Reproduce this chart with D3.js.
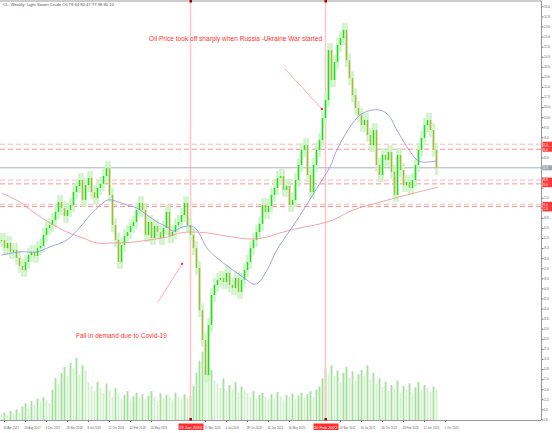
<!DOCTYPE html>
<html>
<head>
  <style>
    body {
      margin: 0;
      background: white;
    }
    svg {
      display: block;
      font-family: "Liberation Sans", Arial, sans-serif;
    }
  </style>
</head>
<body>
  <script src="https://d3js.org/d3.v7.min.js"></script>
  <script>
    var width = 552, height = 433;
    var plotRight = 541, plotBottom = 420;

    // weekly closes, one entry per drawn candle
    var closes = [
      61.8, 59.2, 60.8, 58.0, 58.6, 56.1, 53.5, 52.2, 54.8, 57.0,
      58.0, 56.7, 59.2, 59.9, 63.4, 65.6, 66.5, 68.1, 70.7, 73.8,
      71.9, 69.4, 71.3, 72.9, 77.0, 78.9, 80.8, 74.5, 79.2, 81.5,
      77.0, 75.1, 78.3, 79.6, 82.1, 84.6, 76.1, 66.5, 61.8, 54.8,
      60.2, 63.0, 64.3, 66.2, 67.5, 71.3, 73.5, 71.3, 63.4, 67.5,
      62.4, 66.2, 64.3, 62.4, 65.6, 70.7, 63.0, 64.3, 66.5, 67.5,
      69.7, 73.5, 66.5, 63.4, 59.2, 52.9, 39.5, 30.0, 18.9, 34.8,
      44.3, 47.5, 49.1, 49.7, 48.4, 51.3, 47.5, 46.5, 49.7, 45.3,
      49.1, 52.2, 54.8, 59.2, 61.8, 64.3, 66.9, 72.9, 70.7, 72.6,
      76.1, 78.3, 81.5, 82.1, 77.7, 78.9, 72.9, 74.5, 80.8, 85.6,
      90.4, 91.9, 82.4, 77.0, 85.6, 90.4, 93.5, 100.5, 106.2, 122.1,
      112.6, 118.3, 123.7, 125.9, 128.5, 118.9, 113.2, 107.8, 103.7, 101.5,
      98.3, 99.9, 95.1, 91.9, 96.7, 85.6, 82.4, 88.8, 87.2, 89.7,
      83.4, 76.1, 88.8, 84.0, 79.2, 80.2, 78.3, 80.8, 85.6, 90.4,
      94.2, 98.3, 99.9, 96.7, 90.4, 84.6
    ];

    var volumes = [
      8, 10, 6, 12, 9, 14, 10,
      18, 22, 15, 25, 20, 28, 24, 30, 26, 22,
      40, 55, 48, 62, 70, 58, 75, 68, 82, 60, 72, 65, 50,
      45, 38, 50, 42, 36, 48, 40,
      30, 42, 35, 28, 33, 38, 26, 31, 36, 29, 34, 27, 32, 38, 30, 25, 35, 28, 33, 30, 26, 36, 31, 28, 34, 29, 32,
      45, 62, 78, 90, 70, 58, 66, 52,
      48, 42, 55, 38, 46, 40, 50, 36, 44, 39,
      35, 30, 38, 28, 33, 36, 30, 27, 34, 29, 37, 31, 26, 33, 30, 35, 28, 32, 36, 29, 34, 38, 31, 40, 44,
      55, 68, 60, 72, 58, 65, 50, 62, 70, 56, 64, 52, 60,
      66, 58, 72, 54, 62, 48, 55,
      44, 50, 38, 46, 41, 52, 36, 45, 40, 48, 35, 43, 50, 39, 46, 42, 37, 44, 40
    ];

    // moving averages: [bar, price]
    var maFast = [
      [0, 57.0], [6.2, 58.0], [11.8, 58.0], [16.2, 59.6], [21.8, 61.8], [26.2, 65.9],
      [30.5, 70.7], [33.8, 73.5], [35.5, 74.5], [37.8, 74.2], [41.8, 72.9], [45.2, 71.9],
      [48.5, 69.7], [51.8, 67.5], [55.2, 65.9], [57.2, 64.6], [60.2, 65.9], [62.8, 66.2],
      [64.5, 65.6], [66.2, 63.4], [68.5, 59.2], [71.8, 56.1], [76.2, 52.9], [81.8, 49.1],
      [83.8, 47.8], [85.5, 48.1], [88.5, 52.2], [91.8, 58.6], [98.5, 68.1], [106.2, 79.9],
      [109.5, 85.0], [111.8, 90.4], [116.2, 97.7], [119.5, 101.5], [123.8, 103.1],
      [127.2, 102.7], [129.5, 100.8], [131.8, 96.7], [135.2, 91.3], [138.5, 87.2],
      [140.5, 86.5], [145, 86.9]
    ];
    var maSlow = [
      [0, 76.7], [6.2, 73.8], [10.5, 70.7], [16.2, 67.2], [21.8, 64.3], [27.2, 62.4],
      [31.8, 60.8], [36.2, 60.8], [43.8, 61.1], [49.5, 61.8], [55.2, 62.7], [59.5, 64.0],
      [63.8, 64.3], [68.5, 64.0], [77.2, 62.7], [82.8, 62.1], [88.5, 62.7], [92.8, 64.0],
      [99.5, 65.6], [106.2, 66.9], [110.5, 68.1], [117.2, 71.3], [126.2, 73.8],
      [135.2, 76.1], [145.5, 78.6]
    ];

    var levels = [92.2, 90.6, 80.8, 79.6, 73.1, 72.4];
    var lastPrice = 84.7;

    var priceTicks = [
      136.0, 132.8, 129.6, 126.4, 123.2, 120.0, 116.8, 113.6, 110.4, 107.2,
      104.0, 100.8, 97.6, 94.4, 91.2, 88.0, 84.8, 81.6, 78.4, 75.2,
      72.0, 68.8, 65.6, 62.4, 59.2, 56.0, 52.8, 49.6, 46.4, 43.2,
      40.0, 36.8, 33.6, 30.4, 27.2, 24.0, 20.8, 17.6, 14.4, 11.2, 8.0, 4.8
    ];

    var dateBars = [1, 8, 15, 22, 29, 36, 43, 50, 68, 75, 82, 89, 96, 113, 120, 127, 134, 141, 148];
    var dateLabels = [
      "30 Apr 2017", "20 Aug 2017", "3 Dec 2017", "25 Mar 2018", "8 Jul 2018",
      "21 Oct 2018", "10 Feb 2019", "26 May 2019", "22 Mar 2020", "5 Jul 2020",
      "18 Oct 2020", "31 Jan 2021", "16 May 2021", "20 Mar 2022", "10 Jul 2022",
      "30 Oct 2022", "19 Feb 2023", "11 Jun 2023", "1 Oct 2023"
    ];

    var eventBars = [63, 108];
    var eventLabels = ["19 Jan 2020", "20 Feb 2022"];

    var notes = [
      {text: "Oil Price took off sharply when Russia -Ukraine War started", bar: 49.2, price: 125.0, len: 173,
       from: [94.5, 116.1], to: [106.8, 103.4]},
      {text: "Fall in demand due to Covid-19", bar: 24.8, price: 30.8, len: 91,
       from: [52.2, 42.1], to: [60.2, 54.2]}
    ];

    var wickPad = 2.2;

    var x = d3.scaleLinear().domain([0, closes.length - 1]).range([1.5, 436.5]);
    var y = d3.scaleLinear().domain([4.6, 138.0]).range([plotBottom, 0]);
    var v = d3.scaleLinear().domain([0, 100]).range([0, 76]);
    var fmt = d3.format(".2f");

    var svg = d3.select("body").append("svg")
        .attr("width", width)
        .attr("height", height);

    svg.append("rect").attr("width", width).attr("height", height).attr("fill", "white");

    var bars = closes.map(function(c, i) {
      var o = i ? closes[i - 1] : c;
      return {i: i, o: o, c: c,
        hi: Math.max(o, c) + wickPad, lo: Math.min(o, c) - wickPad,
        vol: volumes[i], up: i ? volumes[i] > volumes[i - 1] : false};
    });

    // volumes along the bottom
    svg.append("g").selectAll("rect")
        .data(bars)
      .enter().append("rect")
        .attr("x", d => x(d.i) - 0.9)
        .attr("width", 1.8)
        .attr("y", d => plotBottom - v(d.vol))
        .attr("height", d => v(d.vol))
        .attr("fill", d => d.up ? "#a3e09c" : "#d2f0ce");

    // event verticals
    svg.append("g").selectAll("line")
        .data(eventBars)
      .enter().append("line")
        .attr("x1", d => x(d)).attr("x2", d => x(d))
        .attr("y1", 0).attr("y2", plotBottom)
        .attr("stroke", "#ffc6c6")
        .attr("stroke-width", 1.5);

    // support / resistance
    svg.append("g").selectAll("line")
        .data(levels)
      .enter().append("line")
        .attr("x1", 0).attr("x2", plotRight)
        .attr("y1", d => y(d)).attr("y2", d => y(d))
        .attr("stroke", (d, i) => i % 2 ? "#ff8f8f" : "#ffb4b4")
        .attr("stroke-dasharray", "5,3");

    svg.append("line")
        .attr("x1", 0).attr("x2", plotRight)
        .attr("y1", y(lastPrice)).attr("y2", y(lastPrice))
        .attr("stroke", "#a9b1b9");

    // candles
    var candles = svg.append("g");
    candles.selectAll(".wick")
        .data(bars)
      .enter().append("rect")
        .attr("class", "wick")
        .attr("x", d => x(d.i) - 1.2)
        .attr("width", 2.4)
        .attr("y", d => y(d.hi))
        .attr("height", d => y(d.lo) - y(d.hi))
        .attr("fill", "#cbf4c4");
    candles.selectAll(".body")
        .data(bars)
      .enter().append("rect")
        .attr("class", "body")
        .attr("x", d => x(d.i) - 0.75)
        .attr("width", 1.5)
        .attr("y", d => y(Math.max(d.o, d.c)))
        .attr("height", d => Math.max(1, Math.abs(y(d.o) - y(d.c))))
        .attr("fill", d => d.c >= d.o ? "#1fe01f" : "#a9b83c");

    // moving averages
    var line = d3.line()
        .x(d => x(d[0]))
        .y(d => y(d[1]))
        .curve(d3.curveCatmullRom);

    svg.append("path")
        .attr("d", line(maSlow))
        .attr("fill", "none")
        .attr("stroke", "#f29a9a")
        .attr("stroke-width", 0.9);
    svg.append("path")
        .attr("d", line(maFast))
        .attr("fill", "none")
        .attr("stroke", "#8c8cf0")
        .attr("stroke-width", 0.8);

    // notes
    notes.forEach(function(n) {
      svg.append("line")
          .attr("x1", x(n.from[0])).attr("y1", y(n.from[1]))
          .attr("x2", x(n.to[0])).attr("y2", y(n.to[1]))
          .attr("stroke", "#ff9c9c")
          .attr("stroke-width", 0.8);
      svg.append("rect")
          .attr("x", x(n.to[0]) - 1).attr("y", y(n.to[1]) - 1)
          .attr("width", 2).attr("height", 2)
          .attr("fill", "#ff2222");
      svg.append("text")
          .attr("x", x(n.bar))
          .attr("y", y(n.price))
          .attr("textLength", n.len)
          .attr("lengthAdjust", "spacingAndGlyphs")
          .attr("font-size", 7)
          .attr("fill", "#ff3333")
          .text(n.text);
    });

    // frame
    svg.append("line").attr("x1", 0).attr("x2", plotRight).attr("y1", 1).attr("y2", 1).attr("stroke", "#9a9a9a");
    svg.append("line").attr("x1", 0).attr("x2", plotRight).attr("y1", plotBottom + 0.5).attr("y2", plotBottom + 0.5).attr("stroke", "#9a9a9a");
    svg.append("line").attr("x1", plotRight + 0.5).attr("x2", plotRight + 0.5).attr("y1", 1).attr("y2", plotBottom).attr("stroke", "#9a9a9a");

    // tag positions on the axis, nudged apart so they stack like the terminal does
    var tagList = levels.map(l => ({p: l, red: true})).concat([{p: lastPrice, red: false}]);
    tagList.forEach(t => t.ty = y(t.p));
    tagList.sort((a, b) => a.ty - b.ty);
    for (var k = 1; k < tagList.length; k++) {
      if (tagList[k].ty - tagList[k - 1].ty < 4.6) tagList[k].ty = tagList[k - 1].ty + 4.6;
    }

    // narrow text: squeeze horizontally so the tiny axis labels fit the strip
    function squeeze(px, py, sx) {
      return "translate(" + px + "," + py + ") scale(" + sx + ",1)";
    }

    // price axis
    var shown = priceTicks.filter(t => tagList.every(g => Math.abs(y(t) - g.ty) > 4.5));
    var yAxis = svg.append("g")
        .attr("transform", "translate(" + (plotRight + 0.5) + ",0)")
        .call(d3.axisRight(y).tickValues(priceTicks).tickSize(2).tickFormat(""));
    yAxis.select(".domain").remove();
    yAxis.selectAll("line").attr("stroke", "#777");
    svg.append("g").selectAll("text")
        .data(shown)
      .enter().append("text")
        .attr("transform", d => squeeze(plotRight + 3, y(d) + 1.4, 0.52))
        .attr("font-size", 3.9)
        .attr("fill", "#666")
        .text(d => fmt(d));

    // level tags
    var tags = svg.append("g");
    tagList.forEach(function(t) {
      tags.append("rect").attr("x", plotRight + 1.5).attr("y", t.ty - 2.5)
          .attr("width", 9.5).attr("height", 5).attr("fill", t.red ? "#ff3535" : "#9ea6ae");
      tags.append("text")
          .attr("transform", squeeze(plotRight + 2.3, t.ty + 1.4, 0.52))
          .attr("font-size", 3.7).attr("fill", "white")
          .text(fmt(t.p));
    });

    // time axis
    var xa = svg.append("g");
    dateBars.forEach(function(b, i) {
      xa.append("line").attr("x1", x(b)).attr("x2", x(b))
          .attr("y1", plotBottom).attr("y2", plotBottom + 2).attr("stroke", "#777");
      xa.append("text")
          .attr("transform", squeeze(x(b) - 1, plotBottom + 9, 0.72))
          .attr("font-size", 4).attr("fill", "#666")
          .text(dateLabels[i]);
    });
    eventBars.forEach(function(b, i) {
      xa.append("rect").attr("x", x(b) - 12).attr("y", plotBottom + 3.5)
          .attr("width", 25).attr("height", 6.5).attr("fill", "#ff2d2d");
      xa.append("text").attr("x", x(b)).attr("y", plotBottom + 8.6)
          .attr("text-anchor", "middle").attr("font-size", 4.2).attr("fill", "white").text(eventLabels[i]);
      xa.append("rect").attr("x", x(b) - 1).attr("y", plotBottom - 2)
          .attr("width", 2.5).attr("height", 2.5).attr("fill", "#aa0000");
      xa.append("rect").attr("x", x(b) - 1).attr("y", 0)
          .attr("width", 2.5).attr("height", 2.5).attr("fill", "#aa0000");
    });

    svg.append("text")
        .attr("x", 3).attr("y", 5.5)
        .attr("font-size", 4.2)
        .attr("fill", "#555")
        .text("CL, Weekly: Light Sweet Crude Oil  79.64 80.47 77.98 80.10");
  </script>
</body>
</html>
